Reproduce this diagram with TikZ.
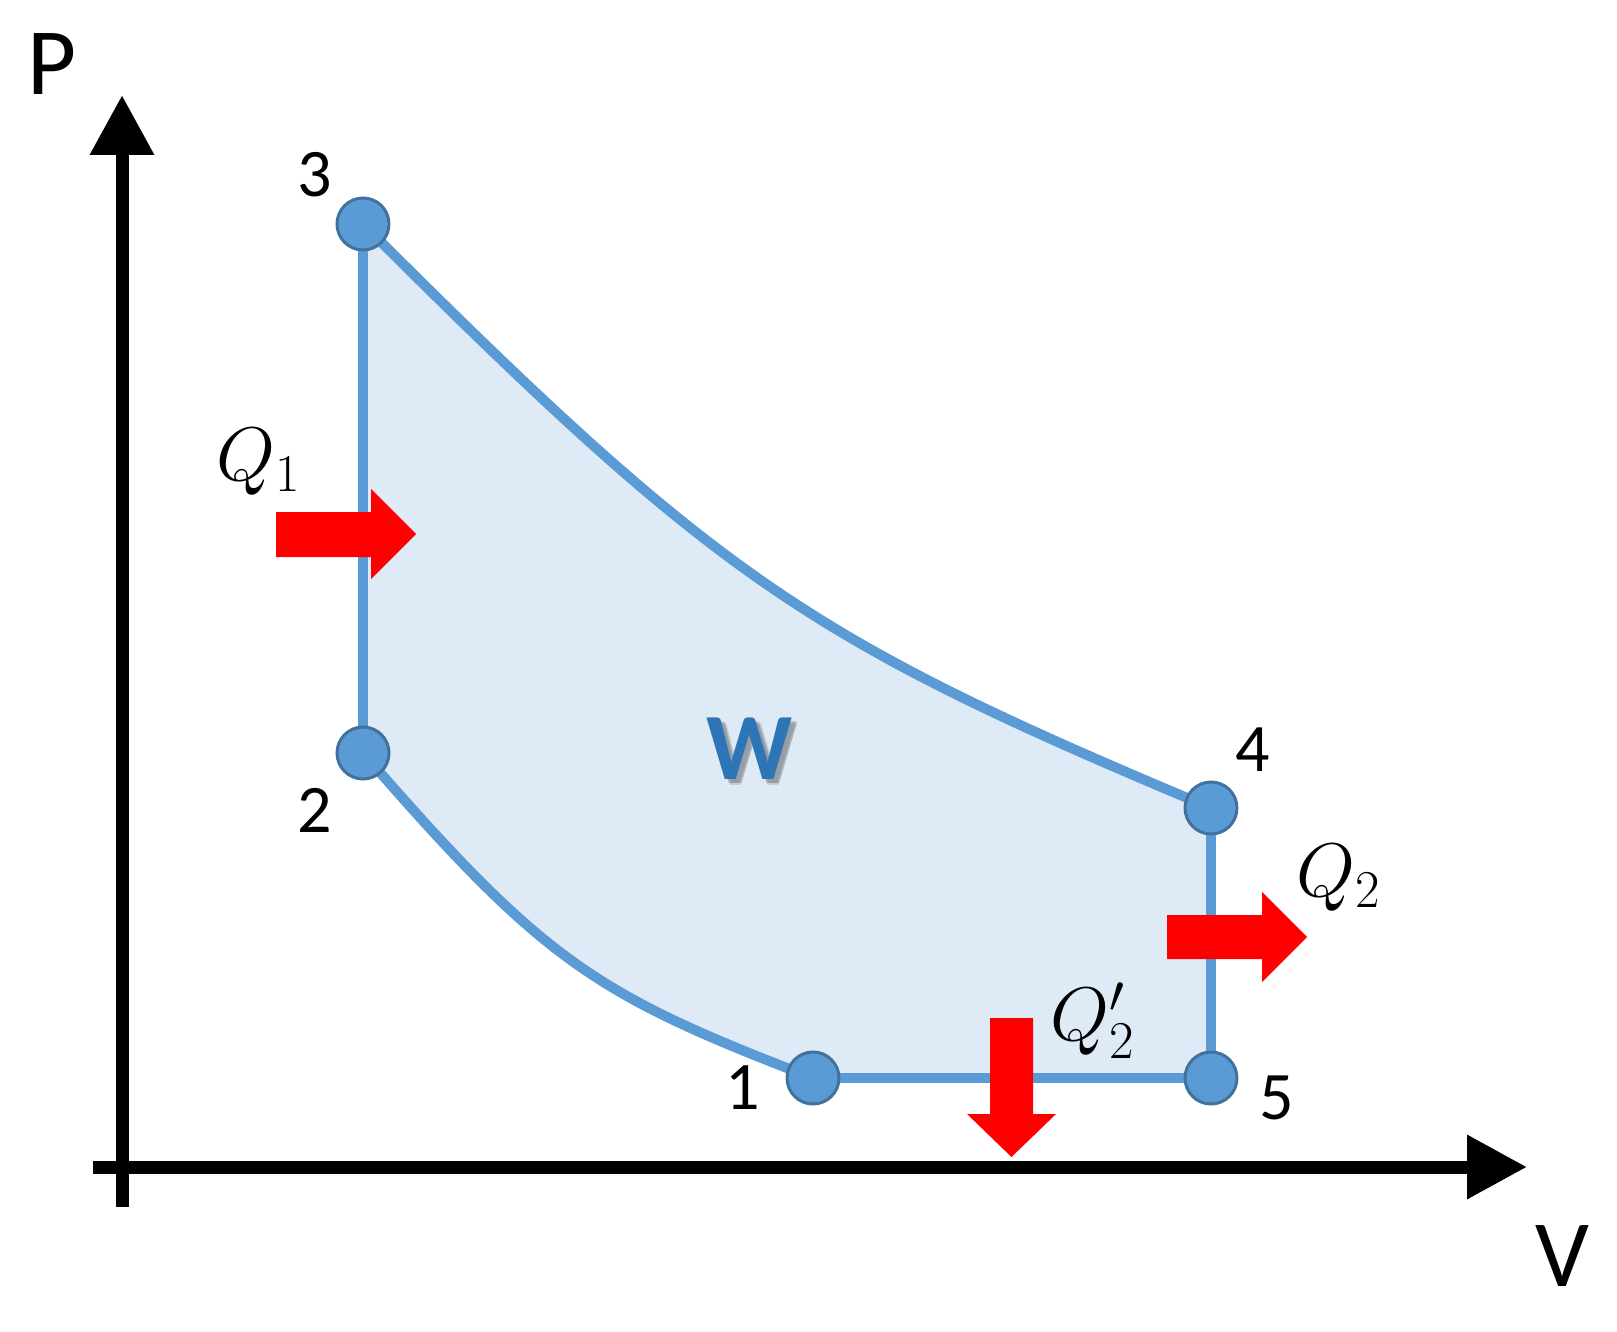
\RequirePackage{fix-cm}
\documentclass[tikz,border=0pt]{standalone}
\usepackage{fontspec}
\newfontfamily\calib{Carlito}
\usetikzlibrary{arrows.meta}
\definecolor{cycblue}{HTML}{5B9BD5}
\definecolor{cycdark}{HTML}{41719C}
\definecolor{cycfill}{HTML}{DEEAF6}
\definecolor{wblue}{HTML}{2E75B6}
\tikzset{
  axisline/.style={line width=13pt,-{Triangle[length=60pt,width=61pt]}},
  cycleline/.style={draw=cycblue,line width=10pt,line join=round},
  statept/.style={circle,fill=cycblue,draw=cycdark,line width=3pt,minimum size=52pt,inner sep=0pt},
  numlabel/.style={font=\calib\fontsize{68}{80}\selectfont,inner sep=0pt},
  axlabel/.style={font=\calib\fontsize{95}{110}\selectfont,inner sep=0pt},
  qlabel/.style={font=\fontsize{76}{90}\selectfont,inner sep=0pt,anchor=base},
  heatarrow/.style={fill=red},
  wfont/.style={font=\calib\bfseries\fontsize{95}{110}\selectfont,inner sep=0pt},
}
\begin{document}
\begin{tikzpicture}[x=1pt,y=-1pt]
\useasboundingbox (0,0) rectangle (1617,1332);
% state coordinates
\coordinate (c1) at (813,1078);
\coordinate (c2) at (363,753);
\coordinate (c3) at (363,224);
\coordinate (c4) at (1211,808);
\coordinate (c5) at (1211,1078);
% filled region
\fill[cycfill] (c3) .. controls (723,584) and (811,640) .. (c4)
  -- (c5) -- (c1)
  .. controls (593,994) and (543,960) .. (c2)
  -- cycle;
% cycle outline
\draw[cycleline] (c3) .. controls (723,584) and (811,640) .. (c4);
\draw[cycleline] (c1) .. controls (593,994) and (543,960) .. (c2);
\draw[cycleline] (c2) -- (c3);
\draw[cycleline] (c4) -- (c5) -- (c1);
% axes
\coordinate (ybot) at (122,1207);
\coordinate (ytop) at (122,95);
\coordinate (xleft) at (93,1167);
\coordinate (xright) at (1527,1167);
\draw[axisline] (ybot) -- (ytop);
\draw[axisline] (xleft) -- (xright);
\node[axlabel] (lp) at (52,64) {P};
\node[axlabel] (lv) at (1562,1256) {V};
% heat arrows
\fill[heatarrow] (276,512) -- (371,512) -- (371,489) -- (416,534) -- (371,579) -- (371,557) -- (276,557) -- cycle;
\fill[heatarrow] (1167,915) -- (1262,915) -- (1262,892) -- (1307,937) -- (1262,982) -- (1262,959) -- (1167,959) -- cycle;
\fill[heatarrow] (990,1018) -- (1033,1018) -- (1033,1114) -- (1056,1114) -- (1011.5,1157) -- (967,1114) -- (990,1114) -- cycle;
\node[qlabel] (q1) at (258,480) {$Q_1$};
\node[qlabel] (q2) at (1338,896) {$Q_2$};
\node[qlabel] (q2p) at (1092,1040) {$Q'_2$};
% state points
\node[statept] (n1) at (c1) {};
\node[statept] (n2) at (c2) {};
\node[statept] (n3) at (c3) {};
\node[statept] (n4) at (c4) {};
\node[statept] (n5) at (c5) {};
\node[numlabel] (l3) at (315,175) {3};
\node[numlabel] (l2) at (315,810) {2};
\node[numlabel] (l1) at (743,1088) {1};
\node[numlabel] (l4) at (1253,750) {4};
\node[numlabel] (l5) at (1277,1098) {5};
% work label with soft shadow
\node[wfont,text=black,opacity=0.12] (wsh1) at (755,755) {W};
\node[wfont,text=black,opacity=0.12] (wsh2) at (754,753) {W};
\node[wfont,text=black,opacity=0.12] (wsh3) at (756,753) {W};
\node[wfont,text=wblue] (w) at (750,749) {W};
\end{tikzpicture}
\end{document}
